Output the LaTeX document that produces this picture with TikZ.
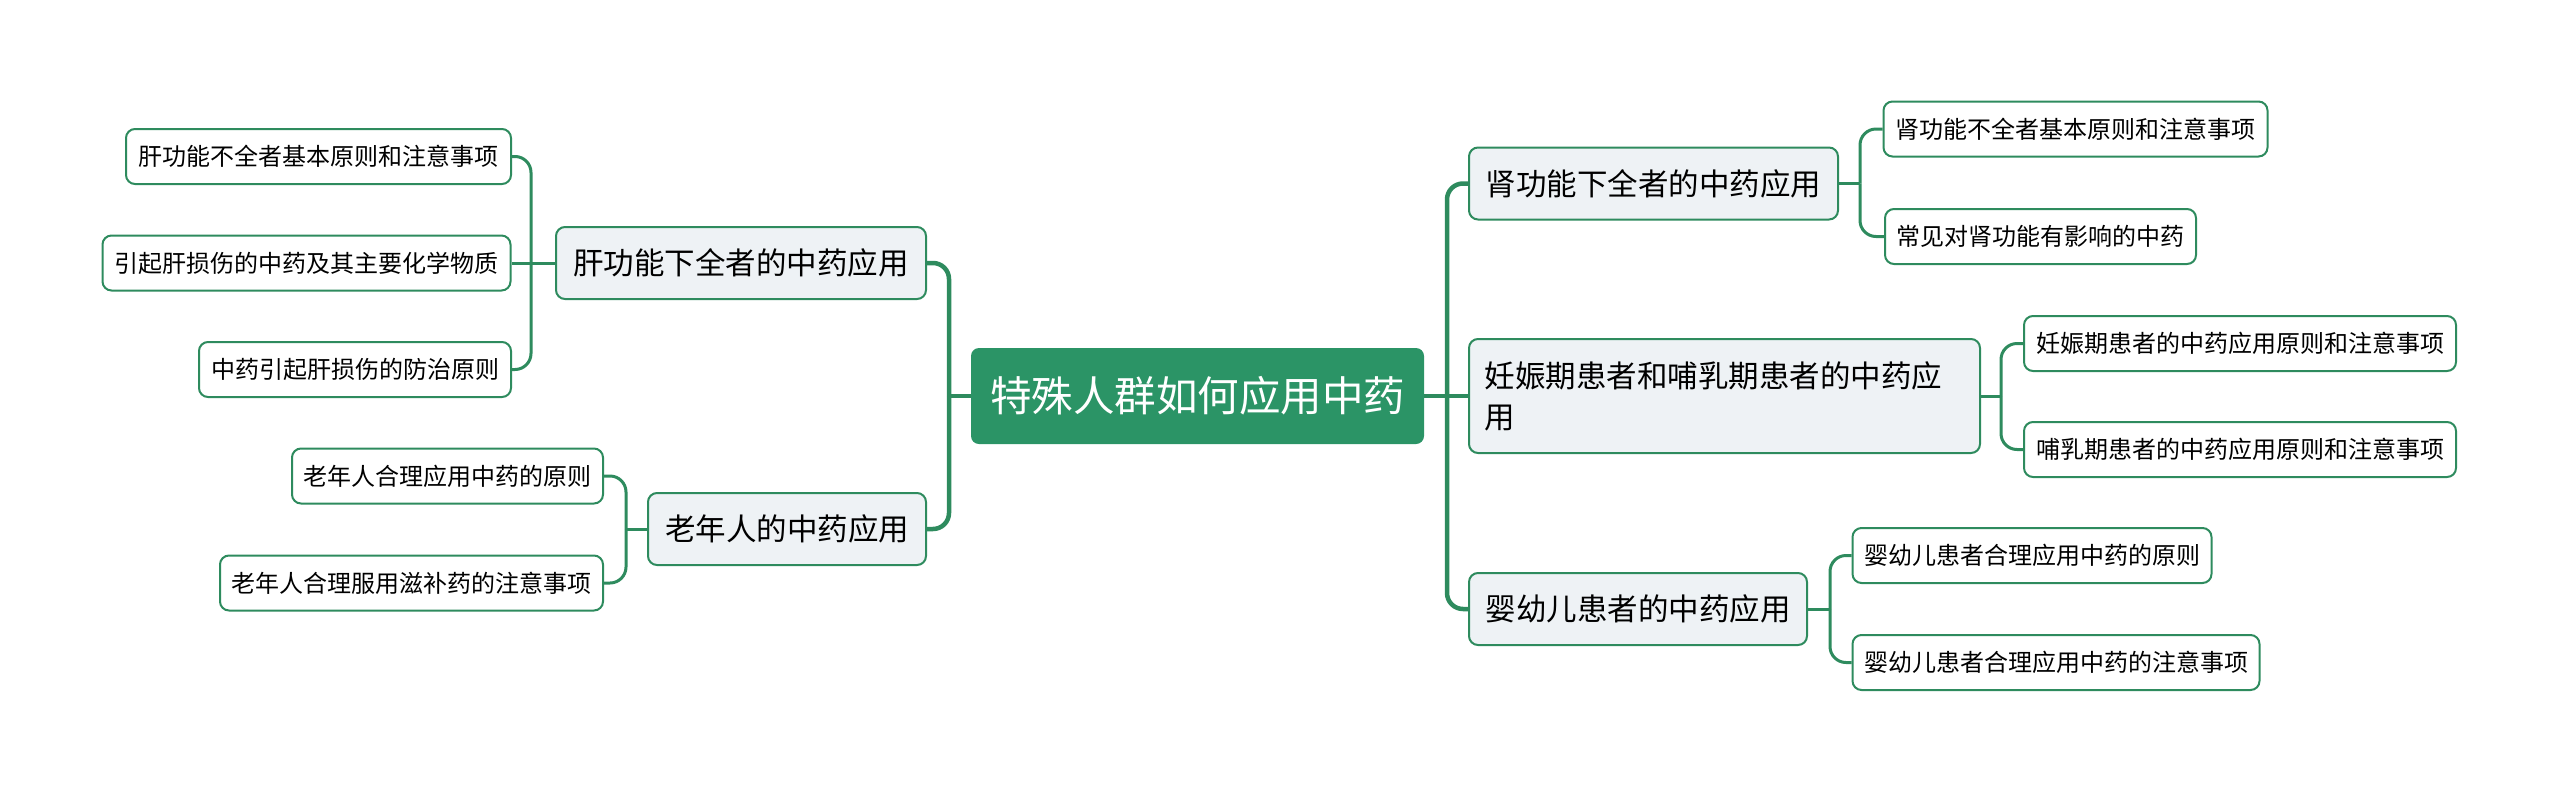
\documentclass[tikz,border=0pt]{standalone}
\usepackage{fontspec}
\setmainfont{Noto Sans CJK SC}
\definecolor{mgreen}{HTML}{2B9466}
\definecolor{lgreen}{HTML}{2E8B5E}
\definecolor{lfill}{HTML}{EEF2F5}
\begin{document}
\begin{tikzpicture}[x=1pt,y=-1pt,
 rootbox/.style={fill=mgreen, text=white, rounded corners=8pt, font=\fontsize{41.5}{50}\selectfont, inner sep=0pt, minimum width=453pt, minimum height=96pt},
 midbox/.style={draw=lgreen, line width=2pt, fill=lfill, rounded corners=9pt, font=\fontsize{30.5}{41}\selectfont, inner sep=0pt, minimum height=72pt},
 leafbox/.style={draw=lgreen, line width=2pt, fill=white, rounded corners=9pt, font=\fontsize{24}{30}\selectfont, inner sep=0pt, minimum height=55pt},
 trunk/.style={draw=lgreen, line width=4.5pt, rounded corners=16pt},
 twig/.style={draw=lgreen, line width=3pt, rounded corners=16pt}]
\useasboundingbox (0,0) rectangle (2560,793);
% root
\node[rootbox] (root) at (1197.5,396) {特殊人群如何应用中药};
% left
\node[midbox, minimum width=370pt] (L1) at (741,263) {肝功能下全者的中药应用};
\node[midbox, minimum width=278pt] (L2) at (787,529) {老年人的中药应用};
\node[leafbox, minimum width=385pt] (L1a) at (318.5,156.5) {肝功能不全者基本原则和注意事项};
\node[leafbox, minimum width=408pt] (L1b) at (306.5,263) {引起肝损伤的中药及其主要化学物质};
\node[leafbox, minimum width=312pt] (L1c) at (355,369.5) {中药引起肝损伤的防治原则};
\node[leafbox, minimum width=311pt] (L2a) at (447.5,476) {老年人合理应用中药的原则};
\node[leafbox, minimum width=383pt] (L2b) at (411.5,583) {老年人合理服用滋补药的注意事项};
% right
\node[midbox, minimum width=369pt] (R1) at (1653.5,183.5) {肾功能下全者的中药应用};
\node[midbox, minimum height=114pt, inner xsep=15.5pt, text width=480pt, align=left] (R2) at (1724.5,396) {妊娠期患者和哺乳期患者的中药应\\用};
\node[midbox, minimum width=338pt] (R3) at (1638,609) {婴幼儿患者的中药应用};
\node[leafbox, minimum width=384pt] (R1a) at (2075.5,129) {肾功能不全者基本原则和注意事项};
\node[leafbox, minimum width=311pt] (R1b) at (2040.5,236.5) {常见对肾功能有影响的中药};
\node[leafbox, minimum width=432pt] (R2a) at (2240,343.5) {妊娠期患者的中药应用原则和注意事项};
\node[leafbox, minimum width=432pt] (R2b) at (2240,449.5) {哺乳期患者的中药应用原则和注意事项};
\node[leafbox, minimum width=359pt] (R3a) at (2032,555.5) {婴幼儿患者合理应用中药的原则};
\node[leafbox, minimum width=407pt] (R3b) at (2056,662.5) {婴幼儿患者合理应用中药的注意事项};
% trunk connectors
\coordinate (lj) at (949,396);
\coordinate (rj) at (1447,396);
\draw[trunk] (L1.east) -| (lj);
\draw[trunk] (L2.east) -| (lj);
\draw[trunk] (root.west) -- (lj);
\draw[trunk] (R1.west) -| (rj);
\draw[trunk] (R3.west) -| (rj);
\draw[trunk] (root.east) -- (R2.west);
% twigs
\coordinate (l1j) at (531,263);
\draw[twig] (L1a.east) -| (l1j);
\draw[twig] (L1c.east) -| (l1j);
\draw[twig] (L1.west) -- (L1b.east);
\coordinate (l2j) at (626,529);
\draw[twig] (L2a.east) -| (l2j);
\draw[twig] (L2b.east) -| (l2j);
\draw[twig] (L2.west) -- (l2j);
\coordinate (r1j) at (1860,183.5);
\draw[twig] (R1a.west) -| (r1j);
\draw[twig] (R1b.west) -| (r1j);
\draw[twig] (R1.east) -- (r1j);
\coordinate (r2j) at (2001,396);
\draw[twig] (R2a.west) -| (r2j);
\draw[twig] (R2b.west) -| (r2j);
\draw[twig] (R2.east) -- (r2j);
\coordinate (r3j) at (1830,609);
\draw[twig] (R3a.west) -| (r3j);
\draw[twig] (R3b.west) -| (r3j);
\draw[twig] (R3.east) -- (r3j);
\end{tikzpicture}
\end{document}
